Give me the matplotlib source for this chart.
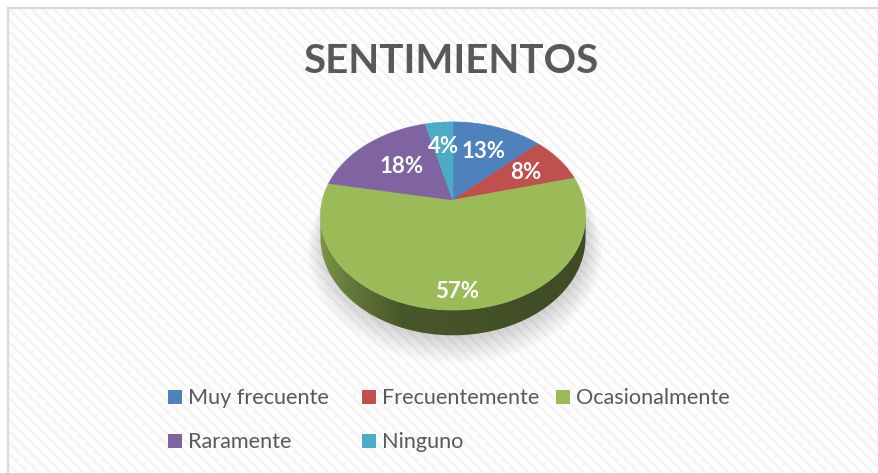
import numpy as np
import matplotlib
matplotlib.use("Agg")
import matplotlib.pyplot as plt
from matplotlib.patches import Polygon, Rectangle
from matplotlib.colors import to_rgb

# ---- data ----
categories = ["Muy frecuente", "Frecuentemente", "Ocasionalmente", "Raramente", "Ninguno"]
values = [13, 8, 57, 18, 4]
labels = ["13%", "8%", "57%", "18%", "4%"]
colors = ["#4F81BD", "#C0504D", "#9BBB59", "#8064A2", "#4BACC6"]
title = "SENTIMIENTOS"

W, H = 879, 473
fig = plt.figure(figsize=(W / 100, H / 100), dpi=100)
ax = fig.add_axes([0, 0, 1, 1])
ax.axis("off")

plt.rcParams["hatch.linewidth"] = 1.3

# background with diagonal stripes and frame
ax.add_patch(Rectangle((9, 9), W, H, facecolor="#fdfdfd", edgecolor="#f1f1f1",
                       hatch="\\\\\\", linewidth=0, zorder=0))
ax.plot([8.5, 8.5], [8.5, H], color="#d9d9d9", lw=1.6, zorder=1)
ax.plot([8.5, W], [8.5, 8.5], color="#d9d9d9", lw=1.6, zorder=1)

# ---- 3D-like pie geometry ----
cx, cy = 453.0, 200.0
A, B, k, D = 91.3, 130.6, 0.17, 21.0


def proj(r, theta_deg, depth=0.0):
    t = np.radians(theta_deg)
    x = r * np.cos(t)
    z = -r * np.sin(t)
    den = 1 - k * z
    return cx + B * x / den, cy + (A * z + depth) / den


vals = np.array(values, dtype=float)
frac = vals / vals.sum()
starts = 90 - 360 * np.concatenate([[0], np.cumsum(frac)[:-1]])
ends = starts - 360 * frac


def slice_at(theta):
    th = theta % 360
    for i, (s, e) in enumerate(zip(starts, ends)):
        a = (s - th) % 360
        if a <= (s - e) + 1e-9:
            return i
    return 0


# soft shadow
for j in range(10):
    tt = np.linspace(0, 360, 200)
    sx, sy = proj(1.0 + 0.012 * j, tt, D + 3 + 0.8 * j)
    ax.add_patch(Polygon(np.column_stack([sx + 2, sy]), closed=True,
                         facecolor="black", edgecolor="none", alpha=0.016, zorder=2))

# side (rim) visible part, drawn as a clipped horizontal gradient
tt = np.linspace(0, 360, 3601)
rx, _ = proj(1.0, tt)
t_left = tt[np.argmin(rx)]
t_right = tt[np.argmax(rx)]
if t_right < t_left:
    t_right += 360
side_t = np.linspace(t_left, t_right, 400)
topx, topy = proj(1.0, side_t)
botx, boty = proj(1.0, side_t, D)
side_pts = np.column_stack([np.concatenate([topx, botx[::-1]]),
                            np.concatenate([topy, boty[::-1]])])
side_patch = Polygon(side_pts, closed=True, facecolor="none", edgecolor="none", zorder=3)
ax.add_patch(side_patch)
xl, xr = topx.min(), topx.max()
ncol = 300
colx = np.linspace(xl, xr, ncol)
col_theta = np.interp(colx, topx, side_t)
img = np.zeros((1, ncol, 3))
for j in range(ncol):
    s = (colx[j] - xl) / (xr - xl)
    f = np.interp(s, [0.0, 0.1, 0.3, 0.8, 1.0], [0.80, 0.66, 0.47, 0.42, 0.40])
    img[0, j] = np.array(to_rgb(colors[slice_at(col_theta[j])])) * f
im = ax.imshow(img, extent=(xl, xr, boty.max() + 1, topy.min() - 1),
               aspect="auto", interpolation="bilinear", zorder=3)
im.set_clip_path(side_patch)

# top face wedges
for i in range(len(values)):
    arc = np.linspace(starts[i], ends[i], 200)
    px, py = proj(1.0, arc)
    pts = np.column_stack([np.concatenate([[cx], px]), np.concatenate([[cy], py])])
    ax.add_patch(Polygon(pts, closed=True, facecolor=colors[i], edgecolor=colors[i],
                         linewidth=0.5, zorder=4))

# data labels
label_r = [0.64, 0.67, 0.86, 0.58, 0.66]
for i in range(len(values)):
    mid = (starts[i] + ends[i]) / 2
    lx, ly = proj(label_r[i], mid)
    ax.text(lx, ly, labels[i], color="white", fontsize=16, fontweight="bold",
            family="Lato", ha="center", va="center", zorder=6)

# title
ax.text(451, 73, title, fontsize=29, fontweight="bold", family="Lato",
        color="#595959", ha="center", va="baseline", zorder=6)

# legend
leg_pos = [(168, 390), (362, 390), (556, 390), (168, 434), (362, 434)]
for i, (lx, ly) in enumerate(leg_pos):
    ax.add_patch(Rectangle((lx, ly), 14, 14, facecolor=colors[i], edgecolor="none", zorder=6))
    ax.text(lx + 20, ly + 14, categories[i], fontsize=15.6, family="Lato",
            color="#595959", ha="left", va="baseline", zorder=6)

ax.set_xlim(0, W)
ax.set_ylim(H, 0)
fig.savefig("out.png", dpi=100)
